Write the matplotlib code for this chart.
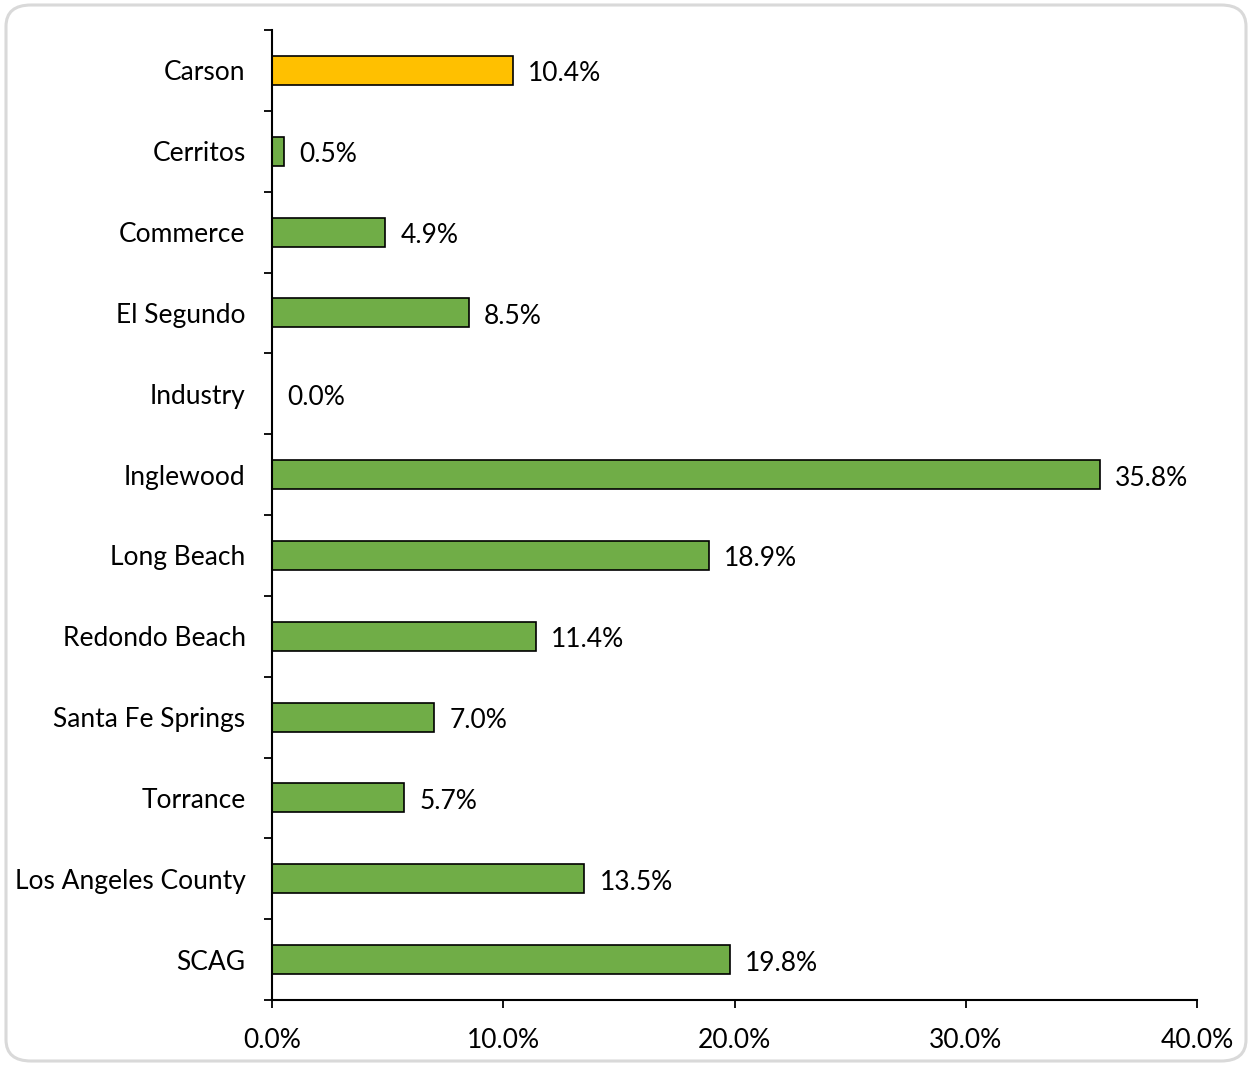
import matplotlib.pyplot as plt
from matplotlib.patches import FancyBboxPatch
import numpy as np

plt.rcParams['font.family'] = ['Lato', 'DejaVu Sans']

places = ['Carson', 'Cerritos', 'Commerce', 'El Segundo', 'Industry', 'Inglewood',
          'Long Beach', 'Redondo Beach', 'Santa Fe Springs', 'Torrance',
          'Los Angeles County', 'SCAG']
shares = [10.4, 0.5, 4.9, 8.5, 0.0, 35.8, 18.9, 11.4, 7.0, 5.7, 13.5, 19.8]
x_ticks = [0, 10, 20, 30, 40]

green = '#70AD47'
gold = '#FFC000'
colors = [gold if p == 'Carson' else green for p in places]
fs = 19

fig = plt.figure(figsize=(12.52, 10.66), dpi=100)
ax = fig.add_axes([272 / 1252, 66 / 1066, 925 / 1252, 970 / 1066])

y = np.arange(len(places))
ax.barh(y, shares, height=0.36, color=colors, edgecolor='black', linewidth=1.2)

for yi, v in zip(y, shares):
    ax.annotate(f'{v:.1f}%', (v, yi), xytext=(11, -2.5), textcoords='offset points',
                va='center', ha='left', fontsize=fs)

ax.set_xlim(0, 40)
ax.set_ylim(len(places) - 0.5, -0.5)
ax.set_xticks(x_ticks)
ax.set_xticklabels([f'{t:.1f}%' for t in x_ticks], fontsize=fs)

ax.set_yticks(y)
ax.set_yticklabels(places, fontsize=fs)
ax.set_yticks(np.arange(-0.5, len(places)), minor=True)
ax.tick_params(axis='y', which='major', length=0, pad=19)
ax.tick_params(axis='y', which='minor', length=6, width=1.3, direction='out')
ax.tick_params(axis='x', length=6, width=1.3, direction='out', pad=14)

for s in ['top', 'right']:
    ax.spines[s].set_visible(False)
for s in ['left', 'bottom']:
    ax.spines[s].set_linewidth(1.5)

# rounded frame around the whole figure
frame = FancyBboxPatch((6 / 1252, 5 / 1066), 1240 / 1252, 1056 / 1066,
                       boxstyle='round,pad=0,rounding_size=0.02',
                       transform=fig.transFigure, facecolor='none',
                       edgecolor='#d9d9d9', linewidth=2.2)
fig.patches.append(frame)

fig.savefig('out.png', dpi=100)
